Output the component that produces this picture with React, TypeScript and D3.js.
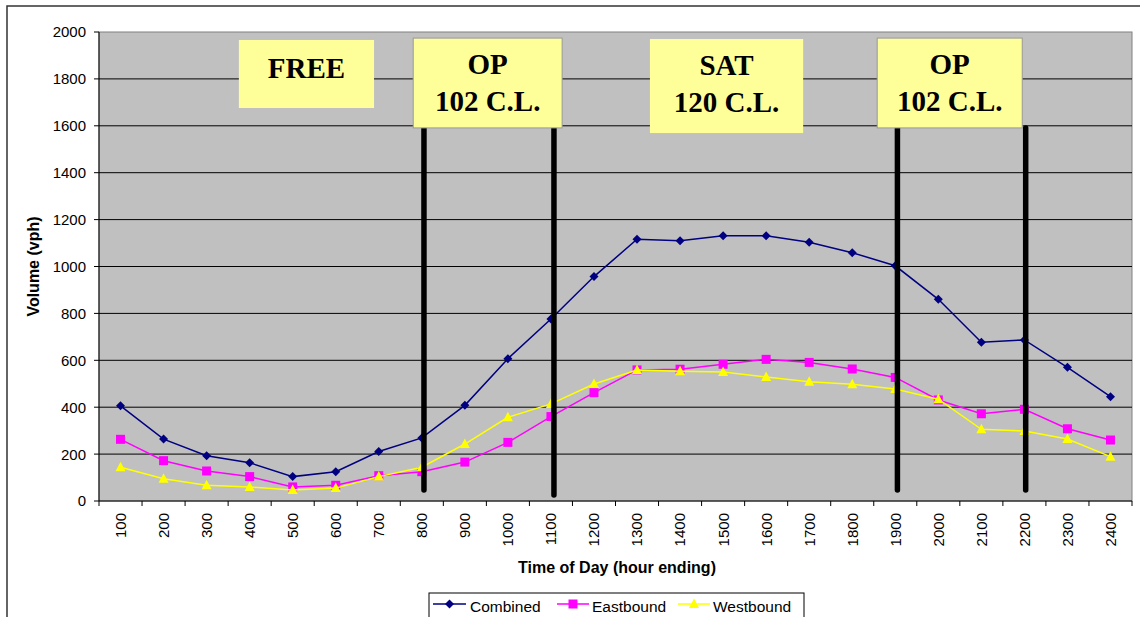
import React from "react";
import * as d3 from "d3";

const categories = ["100","200","300","400","500","600","700","800","900","1000","1100","1200","1300","1400","1500","1600","1700","1800","1900","2000","2100","2200","2300","2400"];
const combined = [406,264,193,163,104,125,211,269,408,607,776,957,1116,1110,1131,1131,1103,1059,1003,860,677,687,570,445];
const eastbound = [263,172,128,104,60,67,108,125,166,250,360,462,559,562,583,604,591,563,527,431,372,391,308,260];
const westbound = [144,95,67,60,47,55,104,144,243,357,414,499,559,553,550,529,509,498,478,434,306,298,264,189];
const yTicks = [0,200,400,600,800,1000,1200,1400,1600,1800,2000];

// annotation boxes in (category index, value) coordinates
const boxLabels = [["FREE"],["OP","102 C.L."],["SAT","120 C.L."],["OP","102 C.L."]];
const boxX0 = [3.25, 7.3, 12.8, 18.08];
const boxX1 = [6.39, 10.76, 16.36, 21.45];
const boxY0 = [1966, 1974, 1970, 1974];
const boxY1 = [1676, 1591, 1569, 1591];
const boxBorder = [false, true, false, true];
// vertical dividers (category index, top value, bottom value)
const dividerX = [7.55, 10.57, 18.55, 21.53];
const dividerTop = [1591, 1591, 1591, 1591];
const dividerBottom = [47, 26, 47, 47];

const W = 1140, H = 617;
const left = 99, right = 1132, top = 32, bottom = 501;

export default function App() {
  const x = d3.scaleBand<string>().domain(categories).range([left, right]);
  const xi = d3.scaleLinear().domain([0, categories.length]).range([left, right]);
  const y = d3.scaleLinear().domain([0, 2000]).range([bottom, top]);
  const cx = (c: string) => (x(c) as number) + x.bandwidth() / 2;
  const line = d3.line<number>().x((_, i) => cx(categories[i])).y(d => y(d));
  const font = "Arial, 'Liberation Sans', sans-serif";
  const serif = "'Times New Roman', 'Liberation Serif', serif";

  const diamond = (px: number, py: number, k: string) => (
    <path key={k} d={`M${px},${py-4.5}L${px+4.5},${py}L${px},${py+4.5}L${px-4.5},${py}Z`} fill="#000080" />
  );
  const square = (px: number, py: number, k: string) => (
    <rect key={k} x={px-4.5} y={py-4.5} width={9} height={9} fill="#FF00FF" />
  );
  const tri = (px: number, py: number, k: string) => (
    <path key={k} d={`M${px},${py-5.5}L${px+5},${py+4}L${px-5},${py+4}Z`} fill="#FFFF00" />
  );

  return (
    <svg width={W} height={H} style={{ position: "absolute", left: 0, top: 0, background: "#fff" }}>
      <rect x={7} y={6} width={1200} height={700} fill="#fff" stroke="#333" strokeWidth={1.5} />
      <rect x={left} y={top} width={right-left} height={bottom-top} fill="#C0C0C0" stroke="#808080" strokeWidth={1} />
      {yTicks.filter(t => t > 0 && t < 2000).map(t => (
        <line key={t} x1={left} x2={right} y1={y(t)} y2={y(t)} stroke="#000" strokeWidth={1} />
      ))}
      {/* axes */}
      <line x1={left} x2={left} y1={top} y2={bottom} stroke="#000" />
      <line x1={left} x2={right} y1={bottom} y2={bottom} stroke="#000" />
      {yTicks.map(t => (
        <g key={t}>
          <line x1={left-5} x2={left} y1={y(t)} y2={y(t)} stroke="#000" />
          <text x={left-13} y={y(t)} dy="0.36em" textAnchor="end" fontFamily={font} fontSize={15}>{t}</text>
        </g>
      ))}
      {categories.map((c, i) => (
        <line key={"t"+c} x1={xi(i)} x2={xi(i)} y1={bottom} y2={bottom+5} stroke="#000" />
      ))}
      <line x1={xi(categories.length)} x2={xi(categories.length)} y1={bottom} y2={bottom+5} stroke="#000" />
      {categories.map(c => (
        <text key={"l"+c} transform={`translate(${cx(c)},${bottom+12}) rotate(-90)`} textAnchor="end" dy="0.36em" fontFamily={font} fontSize={15}>{c}</text>
      ))}
      <text x={617} y={573} textAnchor="middle" fontFamily={font} fontSize={16} fontWeight="bold">Time of Day (hour ending)</text>
      <text transform={`translate(39,${(top+bottom)/2}) rotate(-90)`} textAnchor="middle" fontFamily={font} fontSize={16} fontWeight="bold">Volume (vph)</text>

      {/* series */}
      <path d={line(combined) as string} fill="none" stroke="#000080" strokeWidth={1.5} />
      {combined.map((v, i) => diamond(cx(categories[i]), y(v), "c"+i))}
      <path d={line(eastbound) as string} fill="none" stroke="#FF00FF" strokeWidth={1.5} />
      {eastbound.map((v, i) => square(cx(categories[i]), y(v), "e"+i))}
      <path d={line(westbound) as string} fill="none" stroke="#FFFF00" strokeWidth={1.5} />
      {westbound.map((v, i) => tri(cx(categories[i]), y(v), "w"+i))}

      {/* dividers */}
      {dividerX.map((d, i) => (
        <line key={"d"+i} x1={xi(d)} x2={xi(d)} y1={y(dividerTop[i])} y2={y(dividerBottom[i])} stroke="#000" strokeWidth={5.5} strokeLinecap="round" />
      ))}
      {/* boxes */}
      {boxLabels.map((lab, i) => {
        const x0 = xi(boxX0[i]), x1 = xi(boxX1[i]), y0 = y(boxY0[i]), y1 = y(boxY1[i]);
        const mid = (x0 + x1) / 2;
        return (
          <g key={"b"+i}>
            <rect x={x0} y={y0} width={x1-x0} height={y1-y0} fill="#FFFF99" stroke={boxBorder[i] ? "#999" : "none"} strokeWidth={1} />
            {lab.length === 1 ? (
              <text x={mid} y={y0 + 38} textAnchor="middle" fontFamily={serif} fontWeight="bold" fontSize={29}>{lab[0]}</text>
            ) : (
              <>
                <text x={mid} y={y0 + 36} textAnchor="middle" fontFamily={serif} fontWeight="bold" fontSize={29}>{lab[0]}</text>
                <text x={mid} y={y0 + 73} textAnchor="middle" fontFamily={serif} fontWeight="bold" fontSize={29}>{lab[1]}</text>
              </>
            )}
          </g>
        );
      })}

      {/* legend */}
      <g>
        <rect x={429} y={593} width={375} height={40} fill="#fff" stroke="#000" strokeWidth={1} />
        <line x1={433} x2={466} y1={604} y2={604} stroke="#000080" strokeWidth={1.5} />
        {diamond(449.5, 604, "ld")}
        <text x={470} y={612} fontFamily={font} fontSize={15.5}>Combined</text>
        <line x1={557} x2={589} y1={604} y2={604} stroke="#FF00FF" strokeWidth={1.5} />
        {square(573, 604, "ls")}
        <text x={592} y={612} fontFamily={font} fontSize={15.5}>Eastbound</text>
        <line x1={678} x2={710} y1={604} y2={604} stroke="#FFFF00" strokeWidth={1.5} />
        {tri(694, 604, "lt")}
        <text x={713} y={612} fontFamily={font} fontSize={15.5}>Westbound</text>
      </g>
    </svg>
  );
}
